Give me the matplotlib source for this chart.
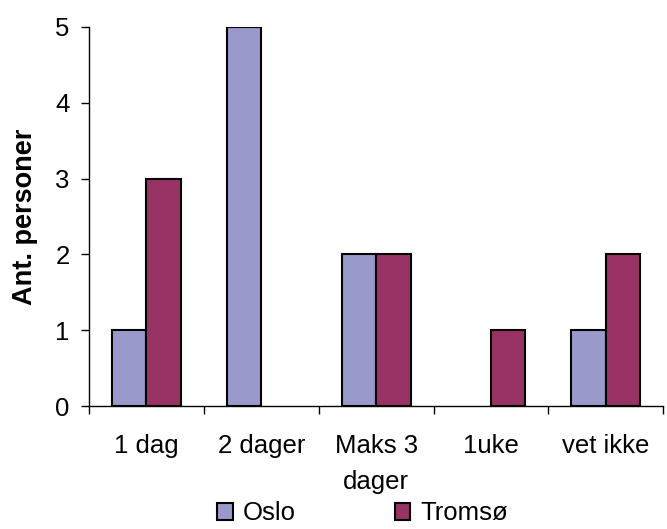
import matplotlib.pyplot as plt
import numpy as np

plt.rcParams['font.family'] = ['Liberation Sans', 'DejaVu Sans']

# svar per kategori
kategorier = ['1 dag', '2 dager', 'Maks 3\ndager', '1uke', 'vet ikke']
oslo = [1, 5, 2, 0, 1]
tromso = [3, 0, 2, 1, 2]
serier = ['Oslo', 'Tromsø']

farge_oslo = '#9999CC'
farge_tromso = '#993366'
fs = 18.5

fig = plt.figure(figsize=(6.67, 5.29), dpi=100)
ax = fig.add_axes([0.1334, 0.2325, 0.861, 0.7165])

x = np.arange(len(kategorier))
b = 0.3
s1 = ax.bar(x - b / 2, oslo, b, color=farge_oslo, edgecolor='black', linewidth=1.5, label=serier[0])
s2 = ax.bar(x + b / 2, tromso, b, color=farge_tromso, edgecolor='black', linewidth=1.5, label=serier[1])
# tomme stolper skal ikke tegnes
for p in list(s1) + list(s2):
    if p.get_height() == 0:
        p.set_visible(False)

ax.set_xlim(-0.5, len(kategorier) - 0.5)
ax.set_ylim(0, 5)
ax.set_yticks(range(6))
ax.tick_params(axis='y', labelsize=fs, length=6, width=1, pad=8, direction='out')

# kategorigrenser som tick, navn midt i hver kategori
ax.set_xticks(np.arange(len(kategorier) + 1) - 0.5)
ax.set_xticklabels([])
ax.set_xticks(x, minor=True)
ax.set_xticklabels(kategorier, minor=True, fontsize=fs, linespacing=1.65)
ax.tick_params(axis='x', which='minor', length=0, pad=20)
ax.tick_params(axis='x', which='major', length=6, width=1, direction='out')

for s in ['top', 'right']:
    ax.spines[s].set_visible(False)
ax.spines['left'].set_linewidth(1)
ax.spines['bottom'].set_linewidth(1)

ax.set_ylabel('Ant. personer', fontsize=19.5, fontweight='bold', labelpad=12)

fig.legend(loc='lower center', bbox_to_anchor=(0.544, -0.037), ncol=2, frameon=False,
           fontsize=fs, handlelength=0.6, handleheight=0.6, handletextpad=0.4,
           columnspacing=3.85)

fig.savefig('out.png', dpi=100)
